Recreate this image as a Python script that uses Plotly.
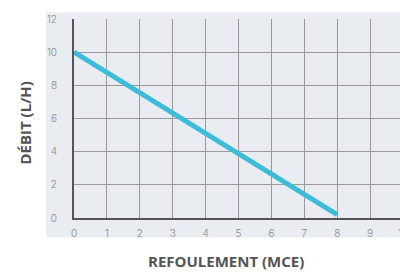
import plotly.graph_objects as go

refoulement = [0, 8]
debit = [10, 0.2]
x_ticks = list(range(0, 11))
y_ticks = list(range(0, 13, 2))

fig = go.Figure()
fig.add_trace(go.Scatter(x=refoulement, y=debit, mode="lines",
                         line=dict(color="#3dbcd9", width=5), hoverinfo="skip"))

L, T, B, R = 74, 14, 55, 16
W, H = 420, 273
PW, PH = W - L - R, H - T - B
fig.update_layout(
    width=W, height=H,
    margin=dict(l=L, r=R, t=T, b=B),
    paper_bgcolor="white",
    plot_bgcolor="#e9ecf0",
    showlegend=False,
    font=dict(family="Inter", color="#8a8a8a", size=10, weight=300),
    shapes=[dict(type="rect", xref="paper", yref="paper",
                 x0=-28/PW, x1=1.05, y0=-20/PH, y1=1+7/PH,
                 fillcolor="#e9ecf0", line=dict(width=0), layer="below")],
    annotations=[
        dict(text="REFOULEMENT (MCE)", xref="paper", yref="paper",
             x=(226-L)/PW, y=-(262-218)/PH, showarrow=False,
             font=dict(family="Open Sans", size=15, color="#555555", weight="bold"),
             xanchor="center", yanchor="middle"),
        dict(text="DÉBIT (L/H)", xref="paper", yref="paper",
             x=-(L-25)/PW, y=(218-121)/PH, showarrow=False, textangle=-90,
             font=dict(family="Open Sans", size=15, color="#555555", weight="bold"),
             xanchor="center", yanchor="middle"),
    ],
)
fig.update_xaxes(range=[0, 10], tickvals=x_ticks, showgrid=True,
                 gridcolor="#9a9a9a", gridwidth=1, showline=True, linecolor="#555555",
                 linewidth=2, zeroline=False, ticks="", ticklabelstandoff=5,
                 fixedrange=True)
fig.update_yaxes(range=[0, 12], tickvals=y_ticks, showgrid=True,
                 gridcolor="#9a9a9a", gridwidth=1, showline=True, linecolor="#555555",
                 linewidth=2, zeroline=False, ticks="", ticklabelstandoff=13,
                 fixedrange=True)

fig.write_html("out.html", config={"displayModeBar": False},
               post_script="document.body.style.margin='0';document.body.style.overflow='hidden';")
